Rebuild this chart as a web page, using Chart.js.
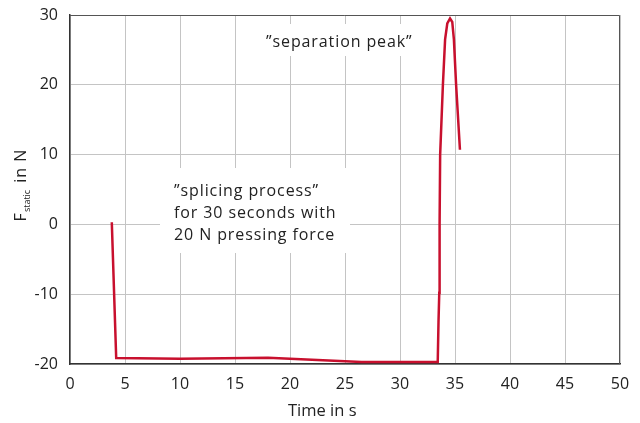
<!DOCTYPE html>
<html>
<head>
<meta charset="utf-8">
<script src="https://cdn.jsdelivr.net/npm/chart.js@4.4.0/dist/chart.umd.min.js"></script>
<style>
  html, body { margin: 0; padding: 0; background: #fff; }
  #wrap { width: 640px; height: 423px; }
</style>
</head>
<body>
<div id="wrap"><canvas id="myChart"></canvas></div>
<script>
// time in s
var timeValues = [3.8, 4.2, 10, 18, 26.5, 33.43, 33.5, 33.57, 33.6, 33.65, 33.9, 34.1, 34.3, 34.55, 34.75, 34.9, 35.1, 35.45];
// static force in N
var forceValues = [0.3, -19.15, -19.25, -19.1, -19.7, -19.7, -14, -9.8, 0, 10, 20, 26.5, 28.8, 29.5, 29.0, 26.5, 20, 10.7];
var xTicks = [0, 5, 10, 15, 20, 25, 30, 35, 40, 45, 50];
var yTicks = [-20, -10, 0, 10, 20, 30];

var fontFam = "'Open Sans', 'Noto Sans', sans-serif";
var textCol = '#222222';

var points = [];
timeValues.forEach(function(t, i) {
  points.push({x: t, y: forceValues[i]});
});

// white boxes behind the notes (they hide the grid)
var boxPlugin = {
  id: 'boxes',
  beforeDatasetsDraw: function(chart) {
    var c = chart.ctx;
    c.save();
    c.fillStyle = '#ffffff';
    c.fillRect(257, 24, 166, 32);
    c.fillRect(160, 168, 190, 85);
    c.restore();
  }
};

// annotations, axis titles (y title has a subscript)
var textPlugin = {
  id: 'texts',
  afterDraw: function(chart) {
    var ctx = chart.ctx;
    ctx.save();
    ctx.fillStyle = textCol;
    ctx.textBaseline = 'alphabetic';
    ctx.textAlign = 'left';
    ctx.letterSpacing = '0.9px';
    ctx.font = '16px ' + fontFam;
    ctx.fillText('\u201Dseparation peak\u201D', 266, 47);
    ctx.fillText('\u201Dsplicing process\u201D', 174, 196);
    ctx.fillText('for 30 seconds with', 174, 218);
    ctx.fillText('20 N pressing force', 174, 240);

    // x title
    ctx.letterSpacing = '0px';
    ctx.font = '16.5px ' + fontFam;
    ctx.fillText('Time in s', 288, 416);

    // y axis title, rotated
    ctx.translate(26, 185);
    ctx.rotate(-Math.PI / 2);
    ctx.letterSpacing = '1px';
    ctx.font = '16px ' + fontFam;
    var w1 = ctx.measureText('F').width;
    ctx.letterSpacing = '0px';
    ctx.font = '9px ' + fontFam;
    var w2 = ctx.measureText('static').width + 2;
    ctx.letterSpacing = '1px';
    ctx.font = '16px ' + fontFam;
    var w3 = ctx.measureText(' in N').width;
    var start = -(w1 + w2 + w3) / 2;
    ctx.fillText('F', start, 0);
    ctx.letterSpacing = '0px';
    ctx.font = '9px ' + fontFam;
    ctx.fillText('static', start + w1, 4);
    ctx.letterSpacing = '1px';
    ctx.font = '16px ' + fontFam;
    ctx.fillText(' in N', start + w1 + w2, 0);
    ctx.restore();
  }
};

var ctx = document.getElementById('myChart');
var myChart = new Chart(ctx, {
  type: 'scatter',
  data: {
    datasets: [{
      data: points,
      showLine: true,
      borderColor: '#c8102e',
      borderWidth: 2.5,
      pointRadius: 0,
      tension: 0,
      fill: false
    }]
  },
  options: {
    responsive: true,
    maintainAspectRatio: false,
    animation: false,
    layout: { padding: { top: 15, right: 20, left: 0, bottom: 0 } },
    plugins: {
      legend: { display: false },
      tooltip: { enabled: false }
    },
    scales: {
      x: {
        type: 'linear',
        min: 0,
        max: 50,
        afterBuildTicks: function(axis) {
          axis.ticks = xTicks.map(function(v) { return {value: v}; });
        },
        afterFit: function(axis) {
          axis.height = 59;
          axis.paddingLeft = 0;
          axis.paddingRight = 0;
        },
        grid: { color: '#c4c4c4', lineWidth: 1, drawTicks: false },
        border: { color: '#333333', width: 1.5 },
        ticks: { color: textCol, font: { family: fontFam, size: 16 }, padding: 11, maxRotation: 0 }
      },
      y: {
        type: 'linear',
        min: -20,
        max: 30,
        afterBuildTicks: function(axis) {
          axis.ticks = yTicks.map(function(v) { return {value: v}; });
        },
        afterFit: function(axis) {
          axis.width = 70;
          axis.paddingTop = 0;
          axis.paddingBottom = 0;
        },
        grid: { color: '#c4c4c4', lineWidth: 1, drawTicks: false },
        border: { color: '#333333', width: 1.5 },
        ticks: { color: textCol, font: { family: fontFam, size: 16 }, padding: 12 }
      }
    }
  },
  plugins: [boxPlugin, textPlugin, {
    id: 'frame',
    afterDraw: function(chart) {
      var a = chart.chartArea;
      var c = chart.ctx;
      c.save();
      c.strokeStyle = '#555555';
      c.lineWidth = 1;
      c.beginPath();
      c.moveTo(a.left, a.top + 0.5);
      c.lineTo(a.right - 0.5, a.top + 0.5);
      c.lineTo(a.right - 0.5, a.bottom);
      c.stroke();
      c.restore();
    }
  }]
});
</script>
</body>
</html>
